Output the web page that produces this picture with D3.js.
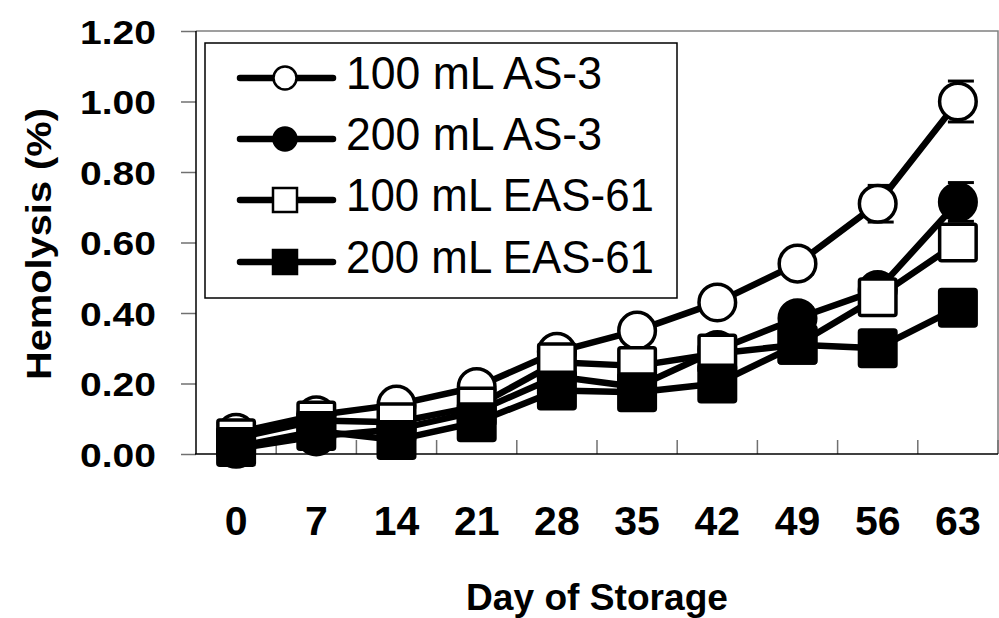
<!DOCTYPE html>
<html>
<head>
<meta charset="utf-8">
<script src="https://cdn.jsdelivr.net/npm/d3@7"></script>
<style>
  html, body { margin: 0; padding: 0; background: #fff; }
  svg { display: block; }
  text { font-family: "Liberation Sans", Arial, sans-serif; }
</style>
</head>
<body>
<svg id="chart" width="999" height="618"></svg>
<script>
// ---- data ----
const days = [0, 7, 14, 21, 28, 35, 42, 49, 56, 63];
const yTicks = [0, 0.2, 0.4, 0.6, 0.8, 1.0, 1.2];
const seriesNames = ["100 mL AS-3", "200 mL AS-3", "100 mL EAS-61", "200 mL EAS-61"];
const as3_100 = [0.06, 0.11, 0.14, 0.19, 0.29, 0.35, 0.43, 0.54, 0.71, 1.00];
const as3_200 = [0.015, 0.05, 0.07, 0.12, 0.22, 0.19, 0.295, 0.385, 0.465, 0.715];
const eas_100 = [0.045, 0.095, 0.09, 0.135, 0.26, 0.25, 0.285, 0.31, 0.445, 0.60];
const eas_200 = [0.02, 0.065, 0.04, 0.09, 0.18, 0.175, 0.20, 0.31, 0.30, 0.415];
const as3_100_err = [0.01, 0.01, 0.01, 0.01, 0.02, 0.02, 0.02, 0.03, 0.052, 0.058];
const as3_200_err = [0.01, 0.01, 0.01, 0.01, 0.02, 0.02, 0.02, 0.03, 0.04, 0.055];
const eas_100_err = [0.01, 0.01, 0.01, 0.01, 0.02, 0.02, 0.02, 0.02, 0.03, 0.03];
const eas_200_err = [0.01, 0.01, 0.01, 0.01, 0.01, 0.02, 0.02, 0.02, 0.02, 0.03];

const series = [
  { name: seriesNames[0], values: as3_100, err: as3_100_err, shape: "circle", fill: "#fff" },
  { name: seriesNames[1], values: as3_200, err: as3_200_err, shape: "circle", fill: "#000" },
  { name: seriesNames[2], values: eas_100, err: eas_100_err, shape: "square", fill: "#fff" },
  { name: seriesNames[3], values: eas_200, err: eas_200_err, shape: "square", fill: "#000" }
];

// ---- layout ----
const plot = { left: 196, right: 998, top: 31, bottom: 454 };
const svg = d3.select("#chart");

const x = d3.scaleBand().domain(days).range([plot.left, plot.right]).paddingInner(0).paddingOuter(0);
const y = d3.scaleLinear().domain([0, 1.2]).range([plot.bottom, plot.top]);
const cx = d => x(d) + x.bandwidth() / 2;

// plot frame (top & right grey)
svg.append("path")
  .attr("d", `M${plot.left},${plot.top}H${plot.right}V${plot.bottom}`)
  .attr("fill", "none").attr("stroke", "#808080").attr("stroke-width", 1.5);

// y axis
const yAxis = d3.axisLeft(y).tickValues(yTicks).tickSize(15).tickFormat(d3.format(".2f"));
const gy = svg.append("g").attr("transform", `translate(${plot.left},0)`).call(yAxis);
gy.select(".domain").remove();
gy.selectAll(".tick line").attr("stroke", "#707070").attr("stroke-width", 1.5);
gy.selectAll(".tick text")
  .attr("x", -40).attr("dy", null).attr("y", 12)
  .attr("font-size", 33).attr("font-weight", "bold").attr("fill", "#000")
  .attr("font-family", "'Liberation Sans', Arial, sans-serif")
  .attr("textLength", 76).attr("lengthAdjust", "spacingAndGlyphs");

// x axis: boundary ticks pointing up, labels centred
const gx = svg.append("g").attr("transform", `translate(0,${plot.bottom})`);
const boundaries = days.map(d => x(d)).concat([plot.right]).slice(1);
gx.selectAll("line.xt").data(boundaries).join("line")
  .attr("class", "xt")
  .attr("x1", d => d).attr("x2", d => d).attr("y1", 0).attr("y2", -14)
  .attr("stroke", "#707070").attr("stroke-width", 1.5);
const xAxis = d3.axisBottom(x).tickSize(0).tickPadding(0);
const gxl = svg.append("g").attr("transform", `translate(0,${plot.bottom})`).call(xAxis);
gxl.select(".domain").remove();
gxl.selectAll(".tick text")
  .attr("y", 81).attr("dy", null)
  .attr("font-size", 41).attr("font-weight", "bold").attr("fill", "#000")
  .attr("font-family", "'Liberation Sans', Arial, sans-serif");

// axis lines
svg.append("line").attr("x1", plot.left).attr("x2", plot.left).attr("y1", plot.top).attr("y2", plot.bottom)
  .attr("stroke", "#000").attr("stroke-width", 1.5);
svg.append("line").attr("x1", plot.left - 1).attr("x2", plot.right).attr("y1", plot.bottom).attr("y2", plot.bottom)
  .attr("stroke", "#000").attr("stroke-width", 1.5);

// axis titles
svg.append("text")
  .attr("x", 597).attr("y", 610).attr("text-anchor", "middle")
  .attr("font-size", 37).attr("font-weight", "bold")
  .attr("textLength", 262).attr("lengthAdjust", "spacingAndGlyphs")
  .text("Day of Storage");
svg.append("text")
  .attr("transform", "translate(51,244) rotate(-90)")
  .attr("text-anchor", "middle")
  .attr("font-size", 35).attr("font-weight", "bold")
  .attr("textLength", 272).attr("lengthAdjust", "spacingAndGlyphs")
  .text("Hemolysis (%)");

// ---- series ----
const line = d3.line().x((v, i) => cx(days[i])).y(v => y(v));
const gS = svg.append("g");
const R = 18.3, SQ = 36.5, MSW = 3.5;

series.forEach(s => {
  const g = gS.append("g");
  // error bars
  const eb = g.selectAll("g.eb").data(s.values.map((v, i) => ({ v, e: s.err[i], d: days[i] }))).join("g");
  eb.append("line").attr("x1", d => cx(d.d)).attr("x2", d => cx(d.d))
    .attr("y1", d => y(d.v - d.e)).attr("y2", d => y(d.v + d.e))
    .attr("stroke", "#000").attr("stroke-width", 3);
  eb.append("line").attr("x1", d => cx(d.d) - 10).attr("x2", d => cx(d.d) + 16)
    .attr("y1", d => y(d.v + d.e)).attr("y2", d => y(d.v + d.e))
    .attr("stroke", "#000").attr("stroke-width", 3);
  eb.append("line").attr("x1", d => cx(d.d) - 10).attr("x2", d => cx(d.d) + 16)
    .attr("y1", d => y(d.v - d.e)).attr("y2", d => y(d.v - d.e))
    .attr("stroke", "#000").attr("stroke-width", 3);
  // line
  g.append("path").datum(s.values).attr("d", line)
    .attr("fill", "none").attr("stroke", "#000").attr("stroke-width", 6.5).attr("stroke-linejoin", "round");
  // markers
  if (s.shape === "circle") {
    g.selectAll("circle").data(s.values).join("circle")
      .attr("cx", (v, i) => cx(days[i])).attr("cy", v => y(v)).attr("r", R)
      .attr("fill", s.fill).attr("stroke", "#000").attr("stroke-width", MSW);
  } else {
    g.selectAll("rect").data(s.values).join("rect")
      .attr("x", (v, i) => cx(days[i]) - SQ / 2).attr("y", v => y(v) - SQ / 2)
      .attr("width", SQ).attr("height", SQ).attr("rx", 2)
      .attr("fill", s.fill).attr("stroke", "#000").attr("stroke-width", MSW);
  }
});

// ---- legend ----
const leg = svg.append("g");
leg.append("rect").attr("x", 205).attr("y", 43).attr("width", 472).attr("height", 255)
  .attr("fill", "#fff").attr("stroke", "#000").attr("stroke-width", 1.5);
const legY = [78, 139, 200, 262];
const legLen = [256, 256, 308, 308];
series.forEach((s, i) => {
  const gy0 = legY[i];
  leg.append("line").attr("x1", 240).attr("x2", 333).attr("y1", gy0).attr("y2", gy0)
    .attr("stroke", "#000").attr("stroke-width", 6.5).attr("stroke-linecap", "round");
  if (s.shape === "circle") {
    leg.append("circle").attr("cx", 285).attr("cy", gy0).attr("r", 11.5)
      .attr("fill", s.fill).attr("stroke", "#000").attr("stroke-width", 2.5);
  } else {
    leg.append("rect").attr("x", 285 - 12).attr("y", gy0 - 12).attr("width", 24).attr("height", 24)
      .attr("fill", s.fill).attr("stroke", "#000").attr("stroke-width", 2.5);
  }
  leg.append("text").attr("x", 346).attr("y", gy0 + 10.5)
    .attr("font-size", 46)
    .attr("textLength", legLen[i]).attr("lengthAdjust", "spacingAndGlyphs")
    .text(s.name);
});
</script>
</body>
</html>
